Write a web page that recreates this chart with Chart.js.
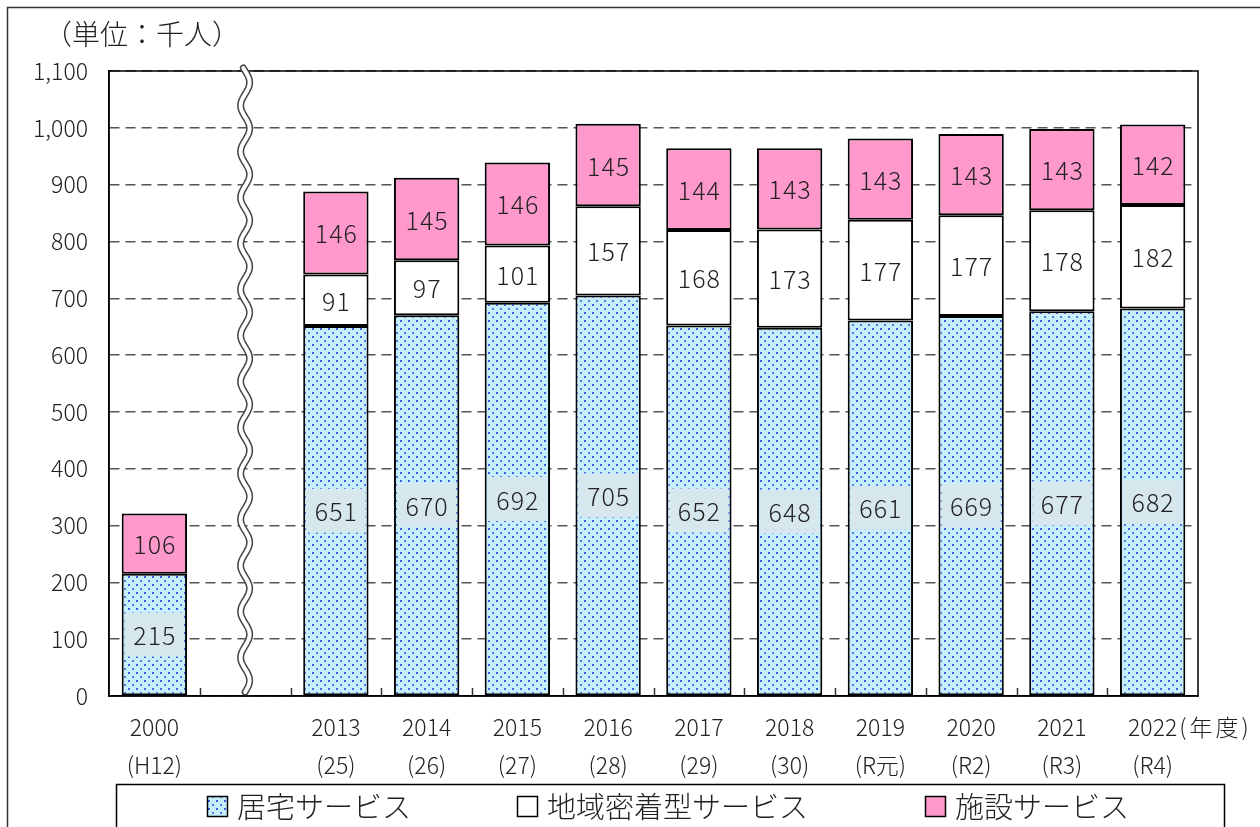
<!DOCTYPE html>
<html>
<head>
<meta charset="utf-8">
<script src="https://cdn.jsdelivr.net/npm/chart.js@4"></script>
<style>
  html, body { margin: 0; padding: 0; background: #fff; }
  #wrap { position: relative; width: 1260px; height: 827px; }
</style>
</head>
<body>
<div id="wrap"><canvas id="kaigoChart" width="1260" height="827"></canvas></div>
<script>
const nendo = ['2000', '', '2013', '2014', '2015', '2016', '2017', '2018', '2019', '2020', '2021', '2022'];
const wareki = ['(H12)', '', '(25)', '(26)', '(27)', '(28)', '(29)', '(30)', '(R元)', '(R2)', '(R3)', '(R4)'];
const kyotaku = [215, null, 651, 670, 692, 705, 652, 648, 661, 669, 677, 682];
const chiiki = [null, null, 91, 97, 101, 157, 168, 173, 177, 177, 178, 182];
const shisetsu = [106, null, 146, 145, 146, 145, 144, 143, 143, 143, 143, 142];
const seriesNames = ['居宅サービス', '地域密着型サービス', '施設サービス'];
const yTicks = [0, 100, 200, 300, 400, 500, 600, 700, 800, 900, 1000, 1100];

const FONT = '"Noto Sans CJK JP", "Noto Sans", sans-serif';
const INK = '#222';

// dotted blue fill like the original
function dotPattern(){
    let c = document.createElement('canvas');
    c.width = 8; c.height = 8;
    let g = c.getContext('2d');
    g.fillStyle = '#c6effb';
    g.fillRect(0, 0, 8, 8);
    g.fillStyle = '#3a62e4';
    g.fillRect(0, 0, 2, 2);
    g.fillStyle = '#5479ea';
    g.fillRect(4, 4, 2, 2);
    return g.createPattern(c, 'repeat');
}

const ctx1 = document.getElementById('kaigoChart');
const blueFill = dotPattern();
const pinkFill = '#ff99cc';

const decor = {
    id: 'decor',
    afterDatasetsDraw(chart){
        const c = chart.ctx;
        const a = chart.chartArea;
        const xs = chart.scales.x;
        c.save();

        // value labels
        chart.data.datasets.forEach((ds, di) => {
            const meta = chart.getDatasetMeta(di);
            meta.data.forEach((bar, i) => {
                const v = ds.data[i];
                if (v == null) return;
                const cy = (bar.y + bar.base) / 2;
                if (di === 0) {
                    c.fillStyle = '#d7e7ee';
                    c.fillRect(bar.x - bar.width / 2 + 3, cy - 22, bar.width - 6, 44);
                }
                c.fillStyle = INK;
                c.font = '300 25px ' + FONT;
                c.textAlign = 'center';
                c.textBaseline = 'middle';
                c.letterSpacing = '1px';
                c.fillText(String(v), bar.x + 0.5, cy + 1);
                c.letterSpacing = '0px';
            });
        });

        // small inward ticks at category boundaries
        const slot = xs.width / chart.data.labels.length;
        c.strokeStyle = '#333';
        c.lineWidth = 1.5;
        c.setLineDash([]);
        for (let i = 1; i < chart.data.labels.length; i++) {
            const x = Math.round(a.left + slot * i) + 0.5;
            c.beginPath();
            c.moveTo(x, a.bottom);
            c.lineTo(x, a.bottom - 8);
            c.stroke();
        }

        // plot frame
        c.strokeStyle = '#000';
        c.lineWidth = 1.5;
        c.strokeRect(a.left, a.top, a.right - a.left, a.bottom - a.top);

        // break mark in the empty slot
        const bx = xs.getPixelForValue(1);
        const wave = [];
        for (let y = a.top - 3; y <= a.bottom - 4; y += 2) {
            wave.push([bx + 4.5 * Math.sin((y - a.top) / 46 * 2 * Math.PI), y]);
        }
        const trace = () => {
            c.beginPath();
            wave.forEach((p, k) => k ? c.lineTo(p[0], p[1]) : c.moveTo(p[0], p[1]));
            c.stroke();
        };
        c.lineCap = 'round';
        c.strokeStyle = '#444';
        c.lineWidth = 7;
        trace();
        c.strokeStyle = '#fff';
        c.lineWidth = 4;
        trace();
        c.lineCap = 'butt';

        // unit title
        c.fillStyle = INK;
        c.font = '300 28px ' + FONT;
        c.textAlign = 'left';
        c.textBaseline = 'middle';
        c.fillText('（単位：千人）', 44, 34);

        // (年度) after last year label
        c.font = '300 23px ' + FONT;
        const lastX = xs.getPixelForValue(nendo.length - 1);
        const w = c.measureText(nendo[nendo.length - 1]).width;
        c.letterSpacing = '3px';
        c.fillText('(年度)', lastX + w / 2 + 2, 727);
        c.letterSpacing = '0px';

        // outer frame
        c.strokeStyle = '#333';
        c.lineWidth = 1.5;
        c.strokeRect(7.5, 7.5, 1300, 900);

        // legend box
        c.strokeStyle = '#000';
        c.lineWidth = 1.5;
        c.fillStyle = '#fff';
        c.fillRect(116, 784, 1108, 50);
        c.strokeRect(116.5, 784.5, 1108, 50);
        const fills = [blueFill, '#ffffff', pinkFill];
        const boxX = [207, 517, 925];
        c.font = '300 29px ' + FONT;
        seriesNames.forEach((name, k) => {
            c.fillStyle = fills[k];
            c.fillRect(boxX[k], 796, 21, 21);
            c.strokeStyle = '#000';
            c.lineWidth = 1.5;
            c.strokeRect(boxX[k] + 0.5, 796.5, 20, 20);
            c.fillStyle = INK;
            c.fillText(name, boxX[k] + 30, 807);
        });
        c.restore();
    }
};

new Chart(ctx1, {
    type: 'bar',
    data: {
        labels: nendo.map((y, i) => [y, wareki[i]]),
        datasets: [
            { label: seriesNames[0], data: kyotaku, backgroundColor: blueFill },
            { label: seriesNames[1], data: chiiki, backgroundColor: '#ffffff' },
            { label: seriesNames[2], data: shisetsu, backgroundColor: pinkFill }
        ].map(d => Object.assign(d, {
            borderColor: '#000',
            borderWidth: 2,
            borderSkipped: false,
            barPercentage: 0.72,
            categoryPercentage: 1
        }))
    },
    options: {
        responsive: false,
        animation: false,
        layout: { padding: { top: 71, right: 62, bottom: 0, left: 0 } },
        plugins: { legend: { display: false }, tooltip: { enabled: false } },
        scales: {
            x: {
                stacked: true,
                grid: { display: false, drawTicks: false },
                border: { color: '#000', width: 1.5 },
                ticks: {
                    color: INK,
                    font: { family: FONT, size: 23, weight: '300', lineHeight: 1.65 },
                    padding: 12,
                    maxRotation: 0,
                    autoSkip: false
                },
                afterFit: (s) => { s.height = 131; }
            },
            y: {
                stacked: true,
                min: 0,
                max: 1100,
                afterBuildTicks: (s) => { s.ticks = yTicks.map(v => ({ value: v })); },
                grid: { color: '#555', lineWidth: 1.5, drawTicks: false },
                border: { color: '#000', width: 1.5, dash: [10, 6] },
                ticks: {
                    color: INK,
                    font: { family: FONT, size: 23, weight: '300' },
                    padding: 21,
                    callback: (v) => v.toLocaleString('en-US')
                },
                afterFit: (s) => { s.width = 109; }
            }
        }
    },
    plugins: [decor]
});
</script>
</body>
</html>
